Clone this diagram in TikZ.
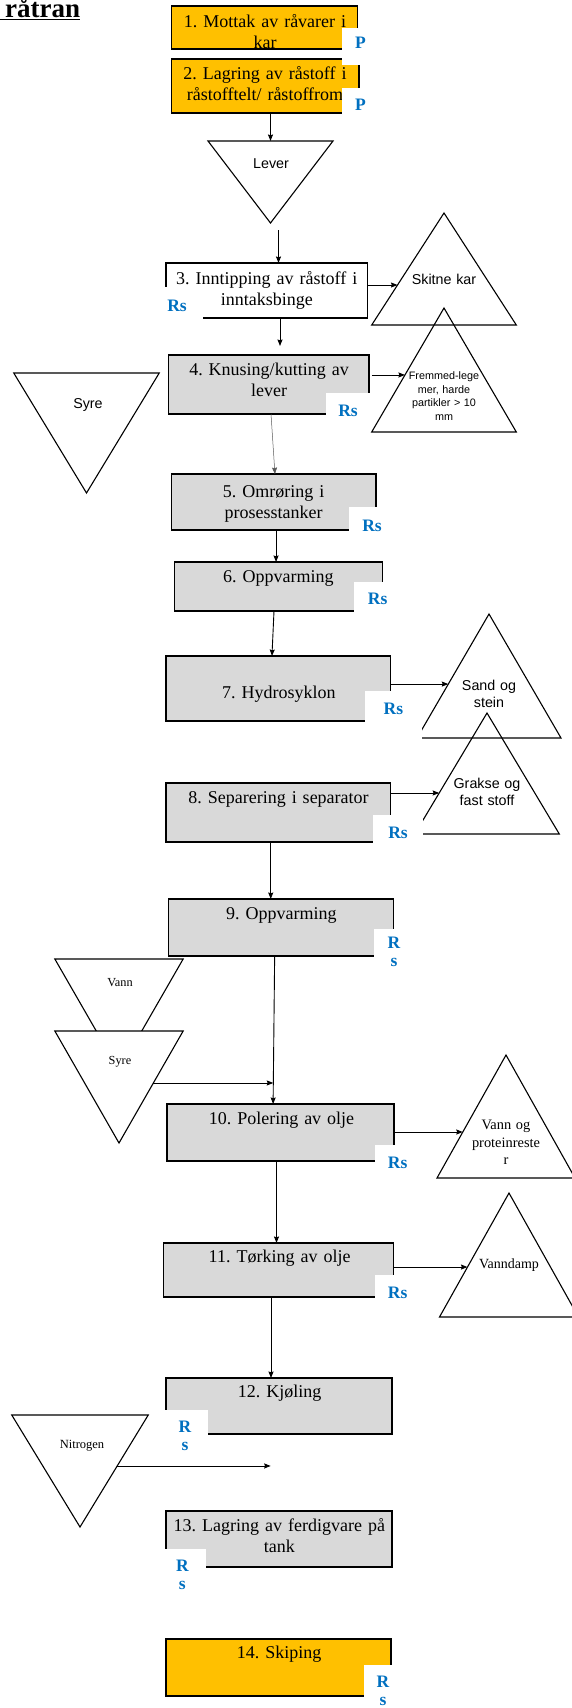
\documentclass[tikz,border=0pt]{standalone}
\usepackage{fontspec}
\setmainfont{Liberation Serif}
\setsansfont{Liberation Sans}
\usepackage{xcolor}
\usetikzlibrary{positioning, arrows.meta, calc, shapes.geometric}

\definecolor{boxorange}{HTML}{FFC000}
\definecolor{boxgray}{HTML}{D9D9D9}
\definecolor{tagblue}{HTML}{0070C0}

\begin{document}
\frenchspacing
\begin{tikzpicture}[x=1pt, y=-1pt]

% --- Styles ---
\tikzset{
    stepbox/.style={rectangle, draw=black, line width=1.4pt, anchor=north west, inner sep=0pt, outer sep=0pt},
    steptext/.style={anchor=base, align=center, text width=240pt, inner sep=0pt, font=\fontsize{18}{21}\selectfont},
    outtri/.style={isosceles triangle, isosceles triangle stretches, shape border rotate=90, draw, line width=1.1pt, inner sep=0pt, outer sep=0pt, anchor=apex},
    intri/.style={outtri, shape border rotate=270, fill=white},
    sanslabel/.style={anchor=base, align=center, text width=120pt, inner sep=0pt, font=\sffamily\fontsize{14.3}{17.7}\selectfont},
    seriflabel/.style={anchor=base, align=center, text width=120pt, inner sep=0pt, font=\fontsize{14.4}{17.5}\selectfont},
    tag/.style={fill=white, anchor=base, align=center, inner sep=0pt, text=tagblue, font=\fontsize{17.5}{18}\selectfont\bfseries},
    flow/.style={-{Stealth[length=6.5pt, width=5pt, inset=0.8pt]}, line width=0.9pt},
}

\useasboundingbox (0,0) rectangle (572,1708);

% --- Title ---
\node[anchor=base west, inner sep=0pt, font=\fontsize{27}{30}\selectfont\bfseries] (title) at (0,17.3) {\underline{\hspace*{5pt}råtran}};

% --- Process steps ---
\node[stepbox, fill=boxorange, minimum width=186pt, minimum height=43pt] (s1) at (171.5,6) {};
\node[steptext] (t1) at (265,27.5) {1. Mottak av råvarer i\\kar};

\node[stepbox, fill=boxorange, minimum width=187.5pt, minimum height=54pt] (s2) at (171.5,59) {};
\node[steptext] (t2) at (265,79) {2. Lagring av råstoff i\\råstofftelt/ råstoffrom};

\node[stepbox, fill=white, minimum width=201.4pt, minimum height=55pt] (s3) at (166,263) {};
\node[steptext] (t3) at (266.8,284) {3. Inntipping av råstoff i\\inntaksbinge};

\node[stepbox, fill=boxgray, minimum width=200.2pt, minimum height=59pt] (s4) at (168.6,355) {};
\node[steptext] (t4) at (269,375.5) {4. Knusing/kutting av\\lever};

\node[stepbox, fill=boxgray, minimum width=204.3pt, minimum height=56pt] (s5) at (171.5,474) {};
\node[steptext] (t5) at (273.6,497) {5. Omrøring i\\prosesstanker};

\node[stepbox, fill=boxgray, minimum width=208pt, minimum height=49pt] (s6) at (174.4,562) {};
\node[steptext] (t6) at (278.4,582) {6. Oppvarming};

\node[stepbox, fill=boxgray, minimum width=224.7pt, minimum height=65pt] (s7) at (166,656) {};
\node[steptext] (t7) at (278.8,698.5) {7. Hydrosyklon};

\node[stepbox, fill=boxgray, minimum width=224.7pt, minimum height=59pt] (s8) at (166,783) {};
\node[steptext] (t8) at (278.5,803.5) {8. Separering i separator};

\node[stepbox, fill=boxgray, minimum width=224.7pt, minimum height=57pt] (s9) at (168.6,899) {};
\node[steptext] (t9) at (281.3,919.5) {9. Oppvarming};

\node[stepbox, fill=boxgray, minimum width=227pt, minimum height=57pt] (s10) at (167,1104) {};
\node[steptext] (t10) at (281.5,1124.5) {10. Polering av olje};

\node[stepbox, fill=boxgray, minimum width=230pt, minimum height=54pt] (s11) at (163.4,1243) {};
\node[steptext] (t11) at (279.6,1262.5) {11. Tørking av olje};

\node[stepbox, fill=boxgray, minimum width=226pt, minimum height=56pt] (s12) at (166,1378) {};
\node[steptext] (t12) at (279.7,1397.5) {12. Kjøling};

\node[stepbox, fill=boxgray, minimum width=226pt, minimum height=56pt] (s13) at (166,1511) {};
\node[steptext] (t13) at (279.4,1531.5) {13. Lagring av ferdigvare på\\tank};

\node[stepbox, fill=boxorange, minimum width=225pt, minimum height=57pt] (s14) at (166,1639) {};
\node[steptext] (t14) at (279.1,1658.5) {14. Skiping};

% --- Inputs (apex down) and outputs (apex up) ---
\node[intri, minimum width=125pt, minimum height=82pt] (lever) at (270.5,223) {};
\node[sanslabel] (leverT) at (271,168.3) {Lever};

\node[outtri, minimum width=144.6pt, minimum height=112pt] (skitne) at (444,213) {};
\node[sanslabel] (skitneT) at (444,284) {Skitne kar};

\node[outtri, minimum width=144.6pt, minimum height=124pt] (fremmed) at (444,308) {};
\node[sanslabel, font=\sffamily\fontsize{10.8}{13.5}\selectfont] (fremmedT) at (444,379.5) {Fremmed-lege\\mer, harde\\partikler > 10\\mm};

\node[intri, minimum width=145.5pt, minimum height=120pt] (syre1) at (86.5,493) {};
\node[sanslabel] (syre1T) at (88,408) {Syre};

\node[outtri, minimum width=144pt, minimum height=124pt] (sand) at (489,614) {};
\node[sanslabel] (sandT) at (489,690) {Sand og\\stein};

\node[outtri, minimum width=144.6pt, minimum height=121pt] (grakse) at (487,713) {};
\node[sanslabel] (grakseT) at (487,788) {Grakse og\\fast stoff};

\node[intri, minimum width=128.3pt, minimum height=111.5pt] (vann) at (119,1070.5) {};
\node[seriflabel, font=\fontsize{12.3}{14}\selectfont] (vannT) at (120,986.7) {Vann};

\node[intri, minimum width=128.3pt, minimum height=112pt] (syre2) at (119,1143) {};
\node[seriflabel, font=\fontsize{12.3}{14}\selectfont] (syre2T) at (120,1064) {Syre};

\node[outtri, minimum width=138pt, minimum height=123pt] (vannog) at (506,1055) {};
\node[seriflabel] (vannogT) at (506,1129.5) {Vann og\\proteinreste\\r};

\node[outtri, minimum width=139pt, minimum height=124pt] (vanndamp) at (509,1193) {};
\node[seriflabel, font=\fontsize{14}{17}\selectfont] (vanndampT) at (509,1268) {Vanndamp};

\node[intri, minimum width=136.5pt, minimum height=112pt] (nitro) at (80,1527) {};
\node[seriflabel, font=\fontsize{12.5}{14}\selectfont] (nitroT) at (82,1448) {Nitrogen};

% --- Connector end points ---
\coordinate (skin) at ($(skitne.left corner)!0.357!(skitne.apex)$);
\coordinate (frin) at ($(fremmed.left corner)!0.46!(fremmed.apex)$);
\coordinate (sandin) at ($(sand.left corner)!0.435!(sand.apex)$);
\coordinate (grin) at ($(grakse.left corner)!0.339!(grakse.apex)$);
\coordinate (vannin) at ($(vannog.left corner)!0.374!(vannog.apex)$);
\coordinate (dampin) at ($(vanndamp.left corner)!0.403!(vanndamp.apex)$);
\coordinate (syreout) at ($(syre2.left corner)!0.464!(syre2.apex)$);
\coordinate (nitout) at ($(nitro.left corner)!0.455!(nitro.apex)$);
\coordinate (tap) at ([xshift=-7.2pt]s10.north);
\coordinate (coolin) at ([xshift=-8.3pt]s12.south);

% --- Main flow ---
\draw[flow] (s2.south -| lever.lower side) -- (lever.lower side);
\draw[flow] ([xshift=8pt,yshift=-7pt]lever.apex) -- ([xshift=8pt]lever.apex |- s3.north);
\draw[flow] ([xshift=13.3pt]s3.south) -- ([xshift=13.3pt,yshift=9pt]s3.south |- s4.north);
\draw[flow, line width=0.5pt, black!65] ([xshift=2.3pt]s4.south) -- ([xshift=1.3pt]s5.north);
\draw[flow] ([xshift=2.4pt]s5.south) -- ([xshift=2.4pt]s5.south |- s6.north);
\draw[flow] ([xshift=-4.4pt]s6.south) -- ([xshift=-6.4pt]s7.north);
\draw[flow] ([xshift=-7.6pt]s8.south) -- ([xshift=-7.6pt]s8.south |- s9.north);
\draw[flow] ([xshift=-6.3pt]s9.south) -- ([xshift=-7.4pt]s10.north);
\draw[flow] ([xshift=-4pt]s10.south) -- ([xshift=-4pt]s10.south |- s11.north);
\draw[flow] ([xshift=-7.4pt]s11.south) -- ([xshift=-7.4pt]s11.south |- s12.north);

% --- Side streams ---
\draw[flow] (s3.east |- skin) -- (skin);
\draw[flow] ([xshift=3pt]s4.east |- frin) -- (frin);
\draw[flow] (s7.east |- sandin) -- (sandin);
\draw[flow] (s8.east |- grin) -- (grin);
\draw[flow] (s10.east |- vannin) -- (vannin);
\draw[flow] (s11.east |- dampin) -- (dampin);
\draw[flow] (syreout) -- (syreout -| tap);
\draw[flow] (nitout) -- (nitout -| coolin);

% --- Hazard tags ---
\node[tag, text width=37pt, text height=20.8pt, text depth=16.2pt] (p1) at (360.5,48.8) {P};
\node[tag, text width=37pt, text height=22.8pt, text depth=13pt] (p2) at (360.5,110.8) {P};
\node[tag, text width=51pt, text height=24.8pt, text depth=14pt] (rs3) at (177,311.8) {Rs};
\node[tag, text width=44.4pt, text height=23.8pt, text depth=10pt] (rs4) at (348,416.8) {Rs};
\node[tag, text width=46pt, text height=24.8pt, text depth=8pt] (rs5) at (372,531.8) {Rs};
\node[tag, text width=47.2pt, text height=22.8pt, text depth=10pt] (rs6) at (377.6,604.8) {Rs};
\node[tag, text width=56.7pt, text height=23pt, text depth=26pt] (rs7) at (393.4,714) {Rs};
\node[tag, text width=50pt, text height=23.8pt, text depth=12pt] (rs8) at (398,838.8) {Rs};
\node[tag, text width=40pt, text height=19.7pt, text depth=30pt] (rs9) at (394,948.7) {R\\s};
\node[tag, text width=45.4pt, text height=23.8pt, text depth=12pt] (rs10) at (397.7,1168.8) {Rs};
\node[tag, text width=45.4pt, text height=23.8pt, text depth=12pt] (rs11) at (397.7,1298.8) {Rs};
\node[tag, text width=45.4pt, text height=22.3pt, text depth=28pt] (rs12) at (185,1432.3) {R\\s};
\node[tag, text width=47.2pt, text height=22.7pt, text depth=30pt] (rs13) at (182.4,1571.7) {R\\s};
\node[tag, text width=38pt, text height=22.3pt, text depth=25pt] (rs14) at (383,1687.3) {R\\s};

\end{tikzpicture}
\end{document}
